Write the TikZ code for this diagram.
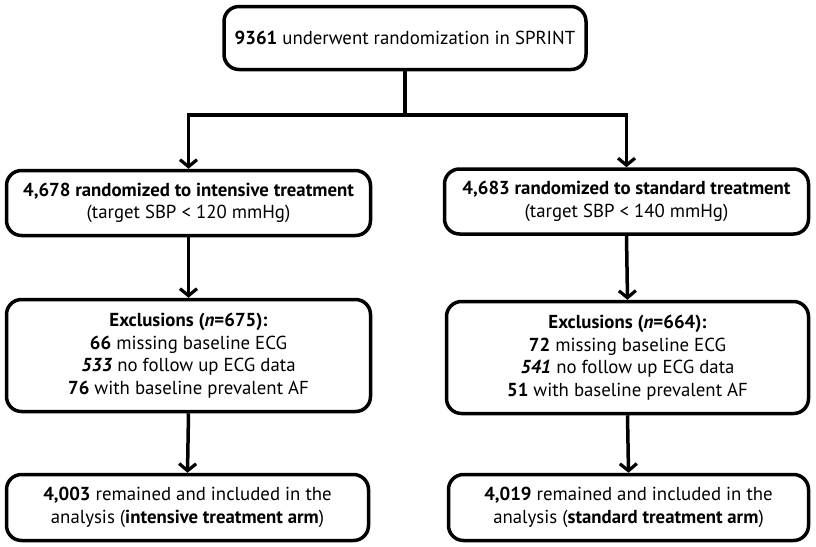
\documentclass[tikz,border=0pt]{standalone}
\usepackage{fontspec}
\setmainfont{PT Sans}
\usetikzlibrary{arrows.meta}
\tikzset{
  box/.style={draw=black, line width=3.5pt, rounded corners=15pt, fill=white,
    align=center, inner sep=0pt, font=\fontsize{18.8}{22.5}\selectfont},
  link/.style={line width=3.5pt, draw=black},
  arr/.style={link, -{Straight Barb[length=7pt,width=17pt,line width=3.2pt]}},
}
\begin{document}
\begin{tikzpicture}[x=1pt,y=-1pt]
\useasboundingbox (0,0) rectangle (816,546);
\node[box, minimum width=362pt, minimum height=63pt] (top) at (405,38) {\textbf{9361} underwent randomization in SPRINT};
\node[box, minimum width=364pt, minimum height=65pt] (l2) at (188.5,203) {\textbf{4,678 randomized to intensive treatment}\\(target SBP < 120 mmHg)};
\node[box, minimum width=364pt, minimum height=65pt] (r2) at (626.5,201.5) {\textbf{4,683 randomized to standard treatment}\\(target SBP < 140 mmHg)};
\node[box, minimum width=364pt, minimum height=112pt] (l3) at (188.5,355.5) {\textbf{Exclusions (\textit{n}=675):}\\\textbf{66} missing baseline ECG\\\textbf{\textit{533}} no follow up ECG data\\\textbf{76} with baseline prevalent AF};
\node[box, minimum width=362pt, minimum height=112pt] (r3) at (627.5,357.5) {\textbf{Exclusions (\textit{n}=664):}\\\textbf{72} missing baseline ECG\\\textbf{\textit{541}} no follow up ECG data\\\textbf{51} with baseline prevalent AF};
\node[box, minimum width=362pt, minimum height=66pt] (l4) at (187.5,507.5) {\textbf{4,003} remained and included in the\\analysis (\textbf{intensive treatment arm})};
\node[box, minimum width=360pt, minimum height=66pt] (r4) at (628.5,507.5) {\textbf{4,019} remained and included in the\\analysis (\textbf{standard treatment arm})};
\coordinate (split) at (405,115);
\draw[link] (top.south) -- (split);
\draw[arr] (split) -| (l2.north);
\draw[arr] (split) -| (r2.north);
\draw[arr] (l2.south) -- (l3.north);
\draw[arr] (r2.south) -- (r3.north);
\draw[arr] (l3.south) -- (l4.north);
\draw[arr] (r3.south) -- (r4.north);
\end{tikzpicture}
\end{document}
